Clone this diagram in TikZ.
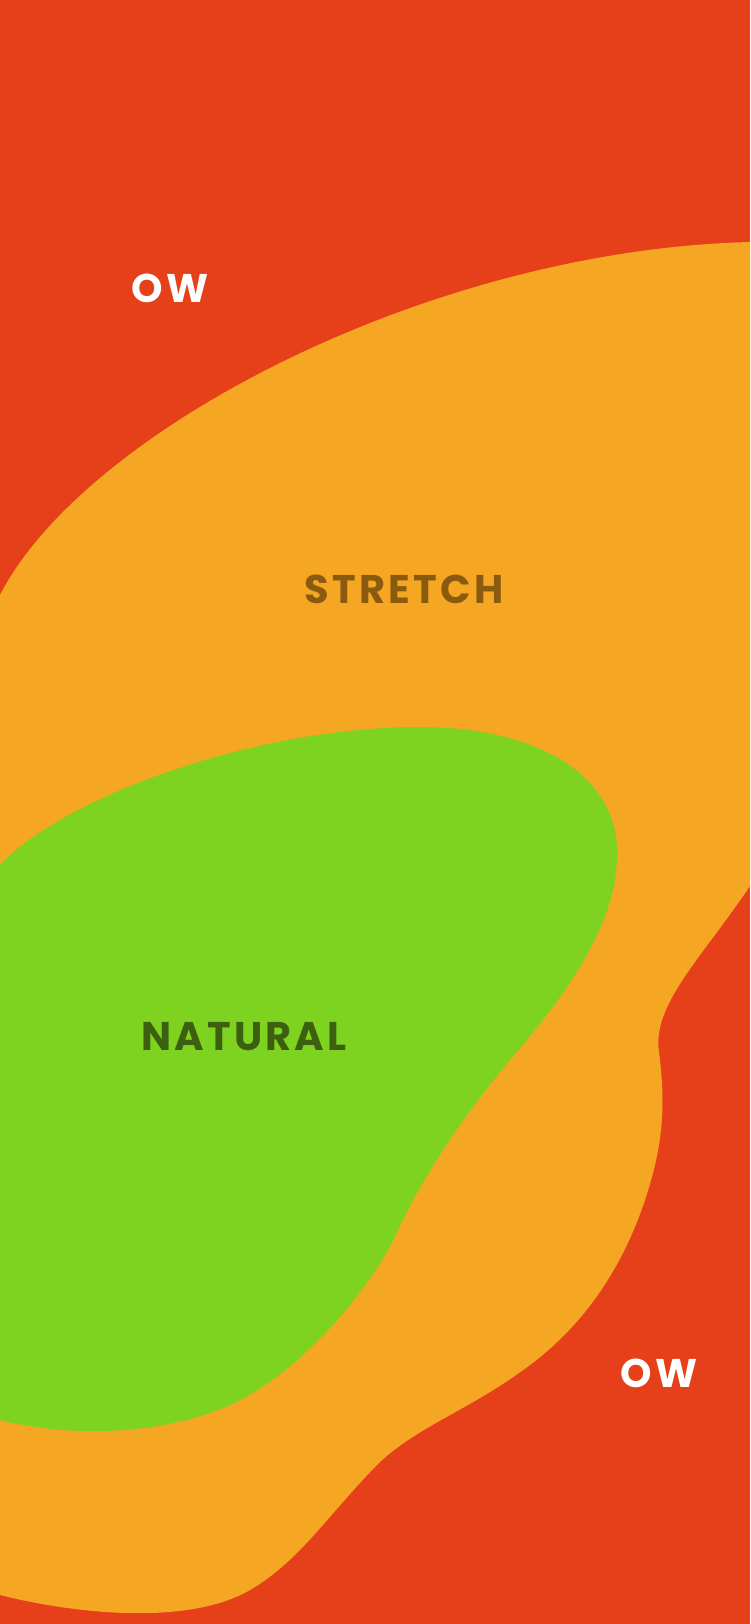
\documentclass[tikz,border=0pt]{standalone}
\usepackage{fontspec}
\setmainfont{Poppins}
\newfontfamily\zonefont[LetterSpace=8]{Poppins Bold}
\definecolor{owred}{HTML}{E5401A}
\definecolor{stretchorange}{HTML}{F5A623}
\definecolor{naturalgreen}{HTML}{7ED321}
\definecolor{stretchtext}{HTML}{8A5A0E}
\definecolor{naturaltext}{HTML}{3C6010}

\begin{document}
\begin{tikzpicture}[x=1pt,y=-1pt,
  zone/.style={inner sep=0pt, font=\zonefont\fontsize{40}{48}\selectfont}]
\useasboundingbox (0,0) rectangle (750,1624);
\fill[owred] (0,0) rectangle (750,1624);

% stretch zone
\fill[stretchorange] (0,595) .. controls (85,430) and (430,250) .. (750,242)
  -- (750,886)
  .. controls (700,960) and (652,1005) .. (659,1052)
  .. controls (665,1100) and (665,1140) .. (645,1200)
  .. controls (625,1260) and (590,1320) .. (530,1365)
  .. controls (470,1410) and (420,1425) .. (380,1462)
  .. controls (330,1512) and (300,1561) .. (250,1590)
  .. controls (190,1625) and (80,1615) .. (0,1595) -- cycle;

% natural zone
\fill[naturalgreen] (0,865) .. controls (60,800) and (250,727) .. (420,727)
  .. controls (530,727) and (615,770) .. (617,850)
  .. controls (619,920) and (570,990) .. (510,1060)
  .. controls (460,1120) and (420,1180) .. (392,1243)
  .. controls (355,1310) and (290,1378) .. (230,1405)
  .. controls (170,1432) and (80,1440) .. (0,1420) -- cycle;

\node[zone, white] (ow_top) at (170,288) {OW};
\node[zone, stretchtext] (stretch) at (404,589) {STRETCH};
\node[zone, naturaltext] (natural) at (244,1037) {NATURAL};
\node[zone, white] (ow_bottom) at (659,1373) {OW};

\end{tikzpicture}
\end{document}
